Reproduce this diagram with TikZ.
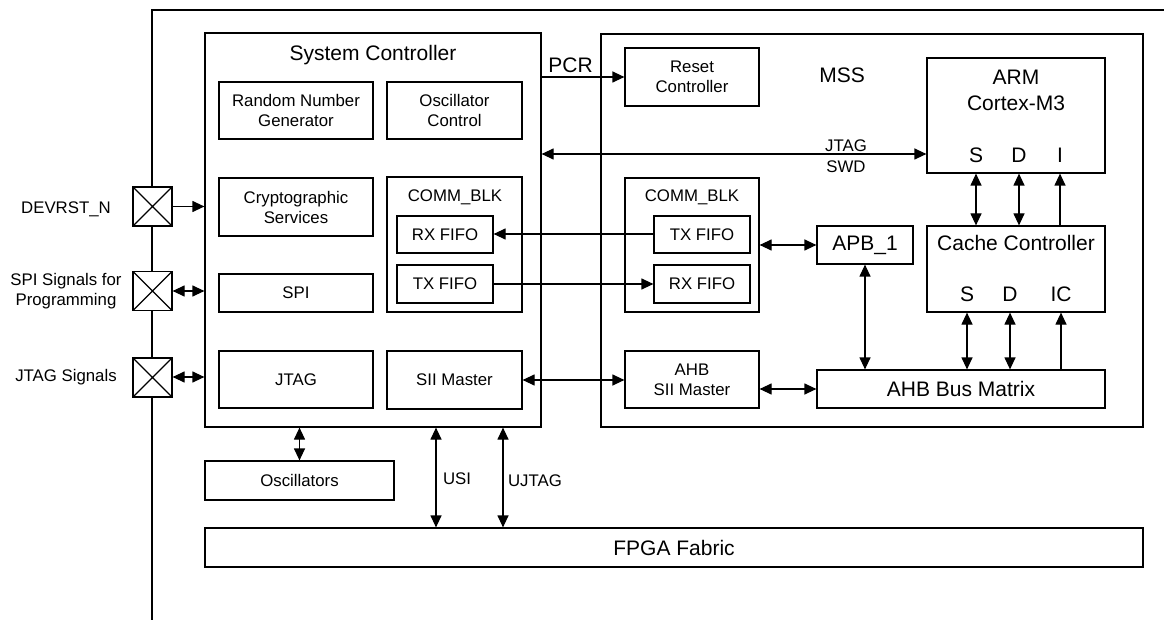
\documentclass[tikz,border=0pt]{standalone}
\usepackage{fontspec}
\setmainfont{Liberation Sans}
\usetikzlibrary{arrows.meta,calc}
\begin{document}
\begin{tikzpicture}[x=1pt,y=-1pt,line width=1.2pt,
  big/.style={font=\fontsize{21}{26}\selectfont},
  small/.style={font=\fontsize{16.8}{20}\selectfont},
  blk/.style={draw,rectangle,inner sep=0pt,align=center,small},
  lbl/.style={inner sep=0pt,align=center},
  arr/.style={-{Triangle[length=12pt,width=11pt]}},
  darr/.style={{Triangle[length=12pt,width=11pt]}-{Triangle[length=12pt,width=11pt]}},
  pad/.style={draw,fill=white,rectangle,minimum width=39pt,minimum height=39pt,inner sep=0pt,
    path picture={\draw[line width=1.2pt] (path picture bounding box.north west) -- (path picture bounding box.south east)
      (path picture bounding box.south west) -- (path picture bounding box.north east);}},
]
\useasboundingbox (0,0) rectangle (1164,620);

% outer frame
\coordinate (fb) at (152,620);
\coordinate (ftl) at (152,10);
\coordinate (ftr) at (1164,10);
\draw (fb) -- (ftl) -- (ftr);

% System Controller
\node[blk,minimum width=336pt,minimum height=394pt] (sc) at (373,230) {};
\node[lbl,big] (sctitle) at (373,55) {System Controller};
\node[blk,minimum width=154pt,minimum height=57pt] (rng) at (296,110.5) {Random Number\\Generator};
\node[blk,minimum width=135pt,minimum height=57pt] (oscc) at (454.5,110.5) {Oscillator\\Control};
\node[blk,minimum width=154pt,minimum height=58pt] (crypto) at (296,207) {Cryptographic\\Services};
\node[blk,minimum width=154pt,minimum height=38pt] (spi) at (296,293) {SPI};
\node[blk,minimum width=154pt,minimum height=57pt] (jtag) at (296,379.5) {JTAG};
\node[blk,minimum width=135pt,minimum height=135pt] (commL) at (454.5,244.5) {};
\node[lbl,small] (commLt) at (455,197) {COMM\_BLK};
\node[blk,minimum width=96pt,minimum height=37pt] (rxL) at (445,234.5) {RX FIFO};
\node[blk,minimum width=96pt,minimum height=38pt] (txL) at (445,284) {TX FIFO};
\node[blk,minimum width=135pt,minimum height=58pt] (sii) at (454.5,380) {SII Master};

% MSS
\node[blk,minimum width=542pt,minimum height=393pt] (mss) at (872,230.5) {};
\node[lbl,big] (msstitle) at (842,75) {MSS};
\node[blk,minimum width=134pt,minimum height=58pt] (reset) at (692,77) {Reset\\Controller};
\node[blk,minimum width=178pt,minimum height=115pt] (arm) at (1016,115.5) {};
\node[lbl,big,font=\fontsize{21}{26}\selectfont] (armt) at (1016,90) {ARM\\Cortex-M3};
\node[lbl,big] (armS) at (976,155) {S};
\node[lbl,big] (armD) at (1019,155) {D};
\node[lbl,big] (armI) at (1060,155) {I};
\node[blk,minimum width=134pt,minimum height=134pt] (commR) at (692,245) {};
\node[lbl,small] (commRt) at (692,197) {COMM\_BLK};
\node[blk,minimum width=96pt,minimum height=37pt] (txR) at (702,234.5) {TX FIFO};
\node[blk,minimum width=96pt,minimum height=38pt] (rxR) at (702,284) {RX FIFO};
\node[blk,big,minimum width=96pt,minimum height=38pt] (apb) at (865,245) {APB\_1};
\node[blk,minimum width=178pt,minimum height=86pt] (cache) at (1016,269) {};
\node[lbl,big] (cachet) at (1016,243) {Cache Controller};
\node[lbl,big] (cS) at (967,294) {S};
\node[lbl,big] (cD) at (1010,294) {D};
\node[lbl,big] (cIC) at (1061,294) {IC};
\node[blk,minimum width=134pt,minimum height=57pt] (ahbsii) at (692,379.5) {AHB\\SII Master};
\node[blk,big,minimum width=288pt,minimum height=38pt] (bus) at (961,389) {AHB Bus Matrix};

% bottom
\node[blk,minimum width=189pt,minimum height=39pt] (osc) at (299.5,480.5) {Oscillators};
\node[blk,big,minimum width=938pt,minimum height=39pt] (fpga) at (674,547.5) {FPGA Fabric};

% pads
\node[pad] (p1) at (152.5,206.5) {};
\node[pad] (p2) at (152.5,291) {};
\node[pad] (p3) at (152.5,377.5) {};
\node[lbl,small] (p1t) at (66,209) {DEVRST\_N};
\node[lbl,small] (p2t) at (66,291) {SPI Signals for\\Programming};
\node[lbl,small] (p3t) at (66,377) {JTAG Signals};

% connectors
\draw[arr] (p1.east) -- (p1.east -| sc.west);
\coordinate (y2) at (0,291);
\coordinate (y3) at (0,377);
\draw[darr] (p2.east |- y2) -- (sc.west |- y2);
\draw[darr] (p3.east |- y3) -- (sc.west |- y3);

\draw[arr] (sc.east |- reset.west) -- (reset.west);
\node[lbl,big,anchor=center] (pcr) at (570.5,65) {PCR};

\coordinate (jy) at (0,154);
\draw[darr] (sc.east |- jy) -- (arm.west |- jy);
\node[lbl,small] (jtagl) at (846,146) {JTAG};
\node[lbl,small] (swdl) at (846,167) {SWD};

\coordinate (fy1) at (0,234);
\coordinate (fy2) at (0,284);
\draw[arr] (txR.west |- fy1) -- (rxL.east |- fy1);
\draw[arr] (txL.east |- fy2) -- (rxR.west |- fy2);
\draw[darr] (sii.east) -- (ahbsii.west |- sii.east);

\draw[darr] (commR.east) -- (apb.west);
\draw[darr] (apb.south) -- (apb.south |- bus.north);
\draw[darr] (ahbsii.east |- bus.west) -- (bus.west);

\draw[darr] (cache.north -| armS) -- (arm.south -| armS);
\draw[darr] (cache.north -| armD) -- (arm.south -| armD);
\draw[arr] (cache.north -| armI) -- (arm.south -| armI);

\draw[darr] (bus.north -| cS) -- (cache.south -| cS);
\draw[darr] (bus.north -| cD) -- (cache.south -| cD);
\draw[arr] (bus.north -| cIC) -- (cache.south -| cIC);

\draw[darr] (osc.north) -- (osc.north |- sc.south);
\coordinate (usix) at (436,0);
\coordinate (ujx) at (503,0);
\draw[darr] (sc.south -| usix) -- (fpga.north -| usix);
\draw[darr] (sc.south -| ujx) -- (fpga.north -| ujx);
\node[lbl,small] (usil) at (457,479) {USI};
\node[lbl,small] (ujl) at (535,481) {UJTAG};
\end{tikzpicture}
\end{document}
